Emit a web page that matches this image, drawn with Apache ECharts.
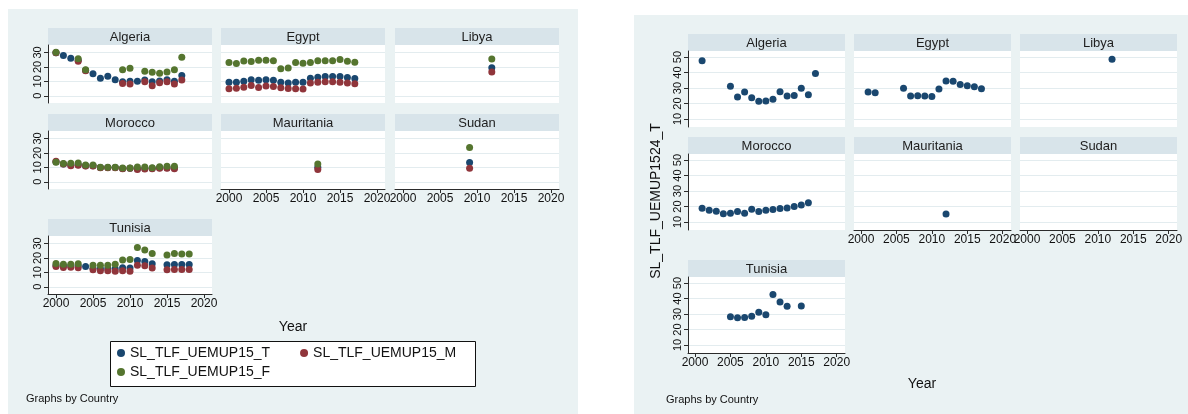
<!DOCTYPE html>
<html>
<head>
<meta charset="utf-8">
<script src="https://cdn.jsdelivr.net/npm/echarts@6/dist/echarts.min.js"></script>
<style>
  html, body { margin: 0; padding: 0; background: #ffffff; }
  #chart { width: 1188px; height: 414px; }
</style>
</head>
<body>
<div id="chart"></div>
<script>
// ---- Unemployment, ages 15+ (total / male / female), by country ----
const algeriaYears  = [2000, 2001, 2002, 2003, 2004, 2005, 2006, 2007, 2008, 2009, 2010, 2011, 2012, 2013, 2014, 2015, 2016, 2017];
const algeriaTotal  = [29.9, 27.9, 26.0, 24.6, 17.7, 15.3, 12.1, 13.5, 11.2, 9.8, 10.0, 10.0, 11.0, 9.8, 10.2, 11.2, 10.0, 14.0];
const algeriaMale   = [29.8, null, null, 24.0, 17.4, null, null, null, null, 8.6, 8.1, null, 9.8, 7.0, 9.1, 9.8, 8.1, 10.9];
const algeriaFemale = [30.2, null, null, 25.6, 18.1, null, null, null, null, 18.1, 19.1, null, 17.0, 16.3, 15.6, 16.5, 18.1, 26.7];

const egyptYears  = [2000, 2001, 2002, 2003, 2004, 2005, 2006, 2007, 2008, 2009, 2010, 2011, 2012, 2013, 2014, 2015, 2016, 2017];
const egyptTotal  = [9.3, 9.3, 10.0, 11.2, 10.7, 11.2, 10.7, 9.3, 8.8, 9.3, 9.3, 12.1, 12.8, 13.3, 13.3, 13.3, 12.6, 11.9];
const egyptMale   = [4.9, 5.3, 6.0, 7.2, 5.8, 6.7, 6.5, 5.6, 5.1, 4.9, 4.7, 8.8, 9.3, 9.8, 9.8, 9.3, 8.8, 8.4];
const egyptFemale = [23.1, 22.3, 24.1, 23.7, 24.7, 24.7, 24.2, 18.8, 19.2, 23.0, 22.6, 23.0, 24.3, 24.3, 24.3, 25.1, 24.0, 23.3];

const libyaYears  = [2012];
const libyaTotal  = [19.5];
const libyaMale   = [16.4];
const libyaFemale = [25.5];

const moroccoYears  = [2000, 2001, 2002, 2003, 2004, 2005, 2006, 2007, 2008, 2009, 2010, 2011, 2012, 2013, 2014, 2015, 2016];
const moroccoTotal  = [13.9, 12.4, 11.6, 11.8, 11.1, 11.1, 9.9, 9.9, 9.9, 9.2, 9.4, 9.1, 9.2, 9.3, 9.7, 9.8, 9.6];
const moroccoMale   = [14.2, 12.3, 11.2, 11.4, 10.9, 10.9, 9.8, 9.8, 9.8, 9.1, 9.3, 8.6, 8.8, 9.1, 9.3, 9.3, 9.1];
const moroccoFemale = [13.5, 12.6, 12.8, 13.0, 11.6, 11.6, 10.0, 10.0, 10.0, 9.5, 9.5, 10.2, 10.2, 9.8, 10.5, 10.7, 10.7];

const mauritaniaYears  = [2012];
const mauritaniaTotal  = [10.0];
const mauritaniaMale   = [8.6];
const mauritaniaFemale = [12.3];

const sudanYears  = [2009];
const sudanTotal  = [13.3];
const sudanMale   = [9.3];
const sudanFemale = [23.7];

const tunisiaYears  = [2000, 2001, 2002, 2003, 2004, 2005, 2006, 2007, 2008, 2009, 2010, 2011, 2012, 2013, 2015, 2016, 2017, 2018];
const tunisiaTotal  = [14.8, 14.6, 14.6, 14.5, 14.1, 12.8, 12.5, 12.6, 12.5, 13.2, 13.0, 18.2, 17.5, 15.9, 15.2, 15.5, 15.5, 15.5];
const tunisiaMale   = [14.1, 13.4, 13.6, 13.2, null, 11.8, 11.1, 11.1, 10.7, 11.1, 10.7, 15.0, 14.5, 13.0, 11.8, 12.0, 12.0, 12.0];
const tunisiaFemale = [16.1, 15.7, 15.7, 15.9, null, 15.0, 15.0, 15.0, 15.7, 18.6, 18.9, 27.3, 25.5, 23.0, 22.0, 23.0, 22.7, 22.7];

// ---- Youth unemployment, ages 15-24 (total), by country ----
const algeriaYouthYears = [2001, 2005, 2006, 2007, 2008, 2009, 2010, 2011, 2012, 2013, 2014, 2015, 2016, 2017];
const algeriaYouth      = [47.6, 31.1, 24.2, 27.4, 23.8, 21.5, 21.7, 22.8, 27.6, 24.9, 25.1, 29.8, 25.7, 39.4];
const egyptYouthYears   = [2001, 2002, 2006, 2007, 2008, 2009, 2010, 2011, 2012, 2013, 2014, 2015, 2016, 2017];
const egyptYouth        = [27.4, 27.0, 29.8, 24.9, 25.0, 24.9, 24.5, 29.4, 34.5, 34.3, 32.2, 31.5, 30.9, 29.6];
const libyaYouthYears   = [2012];
const libyaYouth        = [48.5];
const moroccoYouthYears = [2001, 2002, 2003, 2004, 2005, 2006, 2007, 2008, 2009, 2010, 2011, 2012, 2013, 2014, 2015, 2016];
const moroccoYouth      = [18.9, 17.6, 16.9, 15.4, 15.6, 16.8, 15.6, 18.3, 16.8, 17.6, 18.1, 18.7, 19.1, 20.0, 20.9, 22.4];
const mauritaniaYouthYears = [2012];
const mauritaniaYouth      = [15.2];
const sudanYouthYears   = [];
const sudanYouth        = [];
const tunisiaYouthYears = [2005, 2006, 2007, 2008, 2009, 2010, 2011, 2012, 2013, 2015];
const tunisiaYouth      = [28.3, 27.6, 27.8, 28.5, 31.1, 29.6, 42.6, 37.8, 35.0, 35.2];

// ---- Tick labels and names ----
const yearTicks   = [2000, 2005, 2010, 2015, 2020];
const adultTicks  = [0, 10, 20, 30];
const youthTicks  = [10, 20, 30, 40, 50];
const adultNames  = ['SL_TLF_UEMUP15_T', 'SL_TLF_UEMUP15_M', 'SL_TLF_UEMUP15_F'];
const youthName   = 'SL_TLF_UEMUP1524_T';

// ---- Styling ----
const FONT = '"Liberation Sans", Arial, Helvetica, sans-serif';
const COLORS = ['#1a476f', '#90353b', '#55752f'];
const BG = '#eaf2f3';
const STRIP = '#d8e4ea';
const GRIDLINE = '#e3ecef';
const AXIS = '#2b2b2b';
const DOT = 7;

// Panel grids: column x, strip y per row, sizes and axis extents
const leftFrame = {
  colX: [48, 221, 395], w: 164, stripY: [28, 114, 219], stripH: 17, plotH: 58,
  xMin: 1998.92, xMax: 2021.08, yMin: -5, yMax: 35.2, yTicks: adultTicks
};
const rightFrame = {
  colX: [688, 854, 1020], w: 157, stripY: [34, 137, 260], stripH: 17, plotH: 76,
  xMin: 1999.01, xMax: 2021.17, yMin: 4.84, yMax: 53.9, yTicks: youthTicks
};

const panels = [
  { name: 'Algeria',    col: 0, row: 0, bottom: false,
    years: algeriaYears, vals: [algeriaTotal, algeriaMale, algeriaFemale],
    yYears: algeriaYouthYears, youth: algeriaYouth },
  { name: 'Egypt',      col: 1, row: 0, bottom: false,
    years: egyptYears, vals: [egyptTotal, egyptMale, egyptFemale],
    yYears: egyptYouthYears, youth: egyptYouth },
  { name: 'Libya',      col: 2, row: 0, bottom: false,
    years: libyaYears, vals: [libyaTotal, libyaMale, libyaFemale],
    yYears: libyaYouthYears, youth: libyaYouth },
  { name: 'Morocco',    col: 0, row: 1, bottom: false,
    years: moroccoYears, vals: [moroccoTotal, moroccoMale, moroccoFemale],
    yYears: moroccoYouthYears, youth: moroccoYouth },
  { name: 'Mauritania', col: 1, row: 1, bottom: true,
    years: mauritaniaYears, vals: [mauritaniaTotal, mauritaniaMale, mauritaniaFemale],
    yYears: mauritaniaYouthYears, youth: mauritaniaYouth },
  { name: 'Sudan',      col: 2, row: 1, bottom: true,
    years: sudanYears, vals: [sudanTotal, sudanMale, sudanFemale],
    yYears: sudanYouthYears, youth: sudanYouth },
  { name: 'Tunisia',    col: 0, row: 2, bottom: true,
    years: tunisiaYears, vals: [tunisiaTotal, tunisiaMale, tunisiaFemale],
    yYears: tunisiaYouthYears, youth: tunisiaYouth }
];

function pairs(years, vals) {
  const out = [];
  years.forEach((y, i) => { if (vals[i] != null) out.push([y, vals[i]]); });
  return out;
}

const grids = [], xAxes = [], yAxes = [], series = [], graphics = [];

// Graph region backgrounds
graphics.push({ type: 'rect', z: -10, silent: true, shape: { x: 8, y: 9, width: 570, height: 405 }, style: { fill: BG } });
graphics.push({ type: 'rect', z: -10, silent: true, shape: { x: 634, y: 15, width: 554, height: 399 }, style: { fill: BG } });

function addPanel(frame, p, seriesList) {
  const idx = grids.length;
  const x = frame.colX[p.col];
  const stripTop = frame.stripY[p.row];
  const plotTop = stripTop + frame.stripH;

  graphics.push({ type: 'rect', z: -5, silent: true,
    shape: { x: x, y: stripTop, width: frame.w, height: frame.stripH }, style: { fill: STRIP } });
  graphics.push({ type: 'text', z: 5, silent: true, x: x + frame.w / 2, y: stripTop + frame.stripH / 2 + 0.5,
    style: { text: p.name, font: '13px ' + FONT, fill: '#1e1e1e', align: 'center', verticalAlign: 'middle' } });

  grids.push({ left: x, top: plotTop, width: frame.w, height: frame.plotH,
    show: true, backgroundColor: '#ffffff', borderWidth: 0, outerBoundsMode: 'none', z: 0 });

  xAxes.push({
    type: 'value', gridIndex: idx, min: frame.xMin, max: frame.xMax,
    axisLine: { show: p.bottom, onZero: false, lineStyle: { color: AXIS, width: 1 } },
    axisTick: { show: p.bottom, length: 4, customValues: yearTicks, lineStyle: { color: AXIS } },
    axisLabel: { show: p.bottom, customValues: yearTicks, margin: 4, color: '#111',
      fontSize: 12, fontFamily: FONT, showMinLabel: true, showMaxLabel: true,
      formatter: v => String(v) },
    splitLine: { show: false }
  });

  const first = p.col === 0;
  yAxes.push({
    type: 'value', gridIndex: idx, min: frame.yMin, max: frame.yMax,
    axisLine: { show: first, onZero: false, lineStyle: { color: AXIS, width: 1 } },
    axisTick: { show: first, length: 4, customValues: frame.yTicks, lineStyle: { color: AXIS } },
    axisLabel: { show: first, customValues: frame.yTicks, rotate: 90, margin: 5, color: '#111',
      fontSize: 11, fontFamily: FONT, formatter: v => String(v) },
    splitLine: { show: true, customValues: frame.yTicks, lineStyle: { color: GRIDLINE, width: 1.2 } }
  });

  seriesList.forEach(s => {
    series.push({
      type: 'scatter', name: s.name, xAxisIndex: idx, yAxisIndex: idx,
      data: s.data, symbol: 'circle', symbolSize: DOT, clip: false,
      itemStyle: { color: s.color, opacity: 1 }, emphasis: { disabled: true }, z: 3
    });
  });
}

// Left graph: ages 15+
panels.forEach(p => {
  addPanel(leftFrame, p, p.vals.map((v, k) => ({ name: adultNames[k], color: COLORS[k], data: pairs(p.years, v) })));
});
// Right graph: ages 15-24
panels.forEach(p => {
  addPanel(rightFrame, p, [{ name: youthName, color: COLORS[0], data: pairs(p.yYears, p.youth) }]);
});

// Axis titles and notes
graphics.push({ type: 'text', z: 5, silent: true, x: 293, y: 327,
  style: { text: 'Year', font: '14px ' + FONT, fill: '#111', align: 'center', verticalAlign: 'middle' } });
graphics.push({ type: 'text', z: 5, silent: true, x: 922, y: 384,
  style: { text: 'Year', font: '14px ' + FONT, fill: '#111', align: 'center', verticalAlign: 'middle' } });
graphics.push({ type: 'text', z: 5, silent: true, x: 656, y: 201, rotation: Math.PI / 2,
  style: { text: youthName, font: '14px ' + FONT, fill: '#111', align: 'center', verticalAlign: 'middle' } });
graphics.push({ type: 'text', z: 5, silent: true, x: 26, y: 399,
  style: { text: 'Graphs by Country', font: '11px ' + FONT, fill: '#111', align: 'left', verticalAlign: 'middle' } });
graphics.push({ type: 'text', z: 5, silent: true, x: 666, y: 400,
  style: { text: 'Graphs by Country', font: '11px ' + FONT, fill: '#111', align: 'left', verticalAlign: 'middle' } });

// Legend frame
graphics.push({ type: 'rect', z: -4, silent: true,
  shape: { x: 110.5, y: 341.5, width: 365, height: 45 },
  style: { fill: '#ffffff', stroke: '#111', lineWidth: 1 } });

const legendBase = {
  orient: 'horizontal', icon: 'circle', itemWidth: 8, itemHeight: 8, itemGap: 30, padding: 0,
  selectedMode: false, textStyle: { fontSize: 14, fontFamily: FONT, color: '#111' }
};

const chart = echarts.init(document.getElementById('chart'), null, { renderer: 'canvas' });
chart.setOption({
  animation: false,
  backgroundColor: '#ffffff',
  grid: grids,
  xAxis: xAxes,
  yAxis: yAxes,
  series: series,
  legend: [
    Object.assign({}, legendBase, { data: [adultNames[0], adultNames[1]], left: 117, top: 346 }),
    Object.assign({}, legendBase, { data: [adultNames[2]], left: 117, top: 365 })
  ],
  graphic: { elements: graphics },
  tooltip: { show: false }
});
</script>
</body>
</html>
